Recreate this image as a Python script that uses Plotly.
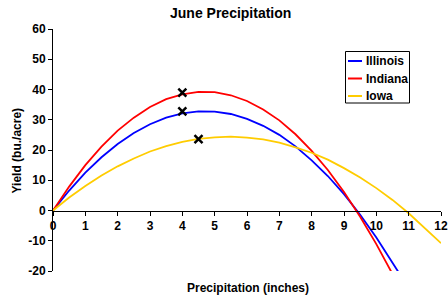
import plotly.graph_objects as go

x_ill = [0, 0.5, 1, 1.5, 2, 2.5, 3, 3.5, 4, 4.5, 5, 5.5, 6, 6.5, 7, 7.5, 8, 8.5, 9, 9.5, 10, 10.5, 10.8]
y_ill = [0, 6.6, 12.5, 17.6, 22.0, 25.6, 28.5, 30.7, 32.1, 32.8, 32.7, 31.9, 30.3, 28.0, 25.0, 21.2, 16.6, 11.4, 5.4, -1.4, -8.9, -17.1, -22.3]

x_ind = [0, 0.5, 1, 1.5, 2, 2.5, 3, 3.5, 4, 4.5, 5, 5.5, 6, 6.5, 7, 7.5, 8, 8.5, 9, 9.5, 10, 10.5]
y_ind = [0, 7.9, 15.0, 21.1, 26.4, 30.7, 34.2, 36.8, 38.4, 39.2, 39.1, 38.1, 36.2, 33.4, 29.8, 25.2, 19.7, 13.4, 6.1, -2.1, -11.1, -21.0]

x_iowa = [0, 0.5, 1, 1.5, 2, 2.5, 3, 3.5, 4, 4.5, 5, 5.5, 6, 6.5, 7, 7.5, 8, 8.5, 9, 9.5, 10, 10.5, 11, 11.5, 12]
y_iowa = [0, 4.3, 8.1, 11.6, 14.6, 17.2, 19.5, 21.3, 22.7, 23.7, 24.2, 24.4, 24.1, 23.5, 22.4, 20.9, 19.1, 16.8, 14.0, 10.9, 7.4, 3.5, -0.9, -5.7, -10.8]

x_marks = [4, 4, 4.5]
y_marks = [39, 32.8, 23.6]

series_names = ["Illinois", "Indiana", "Iowa"]
series_colors = ["#0000FF", "#FF0000", "#FFCC00"]

x_ticks = list(range(0, 13))
y_ticks = [-20, -10, 0, 10, 20, 30, 40, 50, 60]

FONT = "Arial, Liberation Sans, sans-serif"
W, H = 448, 301
ML, MR, MT, MB = 53, 7, 29, 30
PW, PH = W - ML - MR, H - MT - MB


def px(xp):
    return (xp - ML) / PW


def py(yp):
    return (H - MB - yp) / PH


fig = go.Figure()
for xs, ys, name, col in zip([x_ill, x_ind, x_iowa], [y_ill, y_ind, y_iowa], series_names, series_colors):
    fig.add_trace(go.Scatter(x=xs, y=ys, mode="lines", name=name, showlegend=False,
                             line=dict(color=col, width=1.8)))
fig.add_trace(go.Scatter(x=x_marks, y=y_marks, mode="markers", showlegend=False,
                         marker=dict(symbol="x-thin", size=8, color="black",
                                     line=dict(width=2.5, color="black"))))

shapes = [dict(type="rect", xref="paper", yref="paper",
               x0=px(345.5), x1=px(409.5), y0=py(103), y1=py(51.5),
               line=dict(color="black", width=1), fillcolor="white", layer="above")]
annotations = []
row_y = [61, 78.5, 96]
for name, col, ry in zip(series_names, series_colors, row_y):
    shapes.append(dict(type="line", xref="paper", yref="paper",
                       x0=px(348), x1=px(362), y0=py(ry), y1=py(ry),
                       line=dict(color=col, width=2), layer="above"))
    annotations.append(dict(text=f"<b>{name}</b>", xref="paper", yref="paper",
                            x=px(364), y=py(ry), xanchor="left", yanchor="middle",
                            showarrow=False, font=dict(size=12, family=FONT, color="black")))

annotations.append(dict(text="<b>June Precipitation</b>", xref="paper", yref="paper",
                        x=px(230), y=py(13), xanchor="center", yanchor="middle",
                        showarrow=False, font=dict(size=14, family=FONT, color="black")))
annotations.append(dict(text="<b>Precipitation (inches)</b>", xref="paper", yref="paper",
                        x=px(248), y=py(288), xanchor="center", yanchor="middle",
                        showarrow=False, font=dict(size=12, family=FONT, color="black")))
annotations.append(dict(text="<b>Yield (bu./acre)</b>", xref="paper", yref="paper",
                        x=px(16), y=py(150.5), xanchor="center", yanchor="middle",
                        textangle=-90, showarrow=False,
                        font=dict(size=12, family=FONT, color="black")))

fig.update_layout(
    width=W, height=H,
    margin=dict(l=ML, r=MR, t=MT, b=MB, autoexpand=False),
    paper_bgcolor="white", plot_bgcolor="white",
    font=dict(family=FONT, size=12, color="black"),
    showlegend=False,
    shapes=shapes,
    annotations=annotations,
)
fig.update_xaxes(range=[0, 12], tickvals=x_ticks, ticktext=[f"<b>{v}</b>" for v in x_ticks],
                 showline=True, linecolor="black", linewidth=1,
                 ticks="outside", ticklen=4, tickcolor="black",
                 showgrid=False, zeroline=False, automargin=False,
                 anchor="free", position=0.25,
                 tickfont=dict(size=12, family=FONT))
fig.update_yaxes(range=[-20, 60], tickvals=y_ticks, ticktext=[f"<b>{v}</b>" for v in y_ticks],
                 showline=True, linecolor="black", linewidth=1,
                 ticks="outside", ticklen=4, tickcolor="black",
                 showgrid=False, zeroline=False, automargin=False,
                 tickfont=dict(size=12, family=FONT))

fig.write_html("out.html", config={"displayModeBar": False},
               post_script="document.body.style.margin='0';")
